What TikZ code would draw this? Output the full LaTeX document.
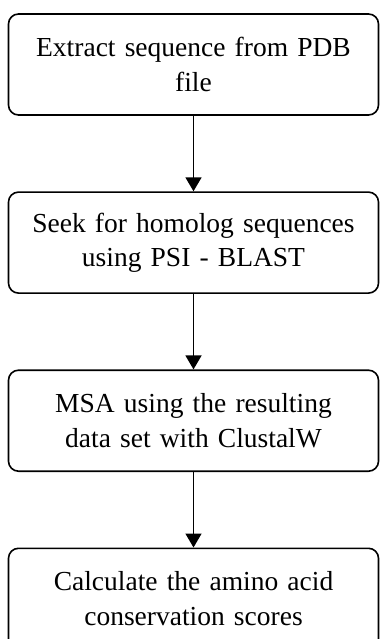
\documentclass[tikz,border=0pt]{standalone}
\usepackage{fontspec}
\setmainfont{Liberation Serif}
\usetikzlibrary{positioning,arrows.meta}

\begin{document}
\begin{tikzpicture}[>={Triangle[width=16pt,length=14pt]},
    stepbox/.style={draw, line width=1.6pt, rounded corners=10pt,
        minimum width=370pt, minimum height=101pt, text width=350pt,
        align=center, font=\fontsize{27.5pt}{34.5pt}\selectfont},
    node distance=75.5pt]
    \useasboundingbox (0,0) rectangle (380pt,-639pt);

    % the four steps, top to bottom
    \node[stepbox] (extract) at (193.5pt,-64.5pt) {Extract sequence from PDB\\ file};
    \node[stepbox, below=of extract] (seek) {Seek for homolog sequences\\ using PSI - BLAST};
    \node[stepbox, below=of seek] (msa) {MSA using the resulting\\ data set with ClustalW};
    \node[stepbox, below=of msa] (calc) {Calculate the amino acid\\ conservation scores};

    \draw[->, line width=1.6pt] (extract) -- (seek);
    \draw[->, line width=1.6pt] (seek) -- (msa);
    \draw[->, line width=1.6pt] (msa) -- (calc);
\end{tikzpicture}
\end{document}
